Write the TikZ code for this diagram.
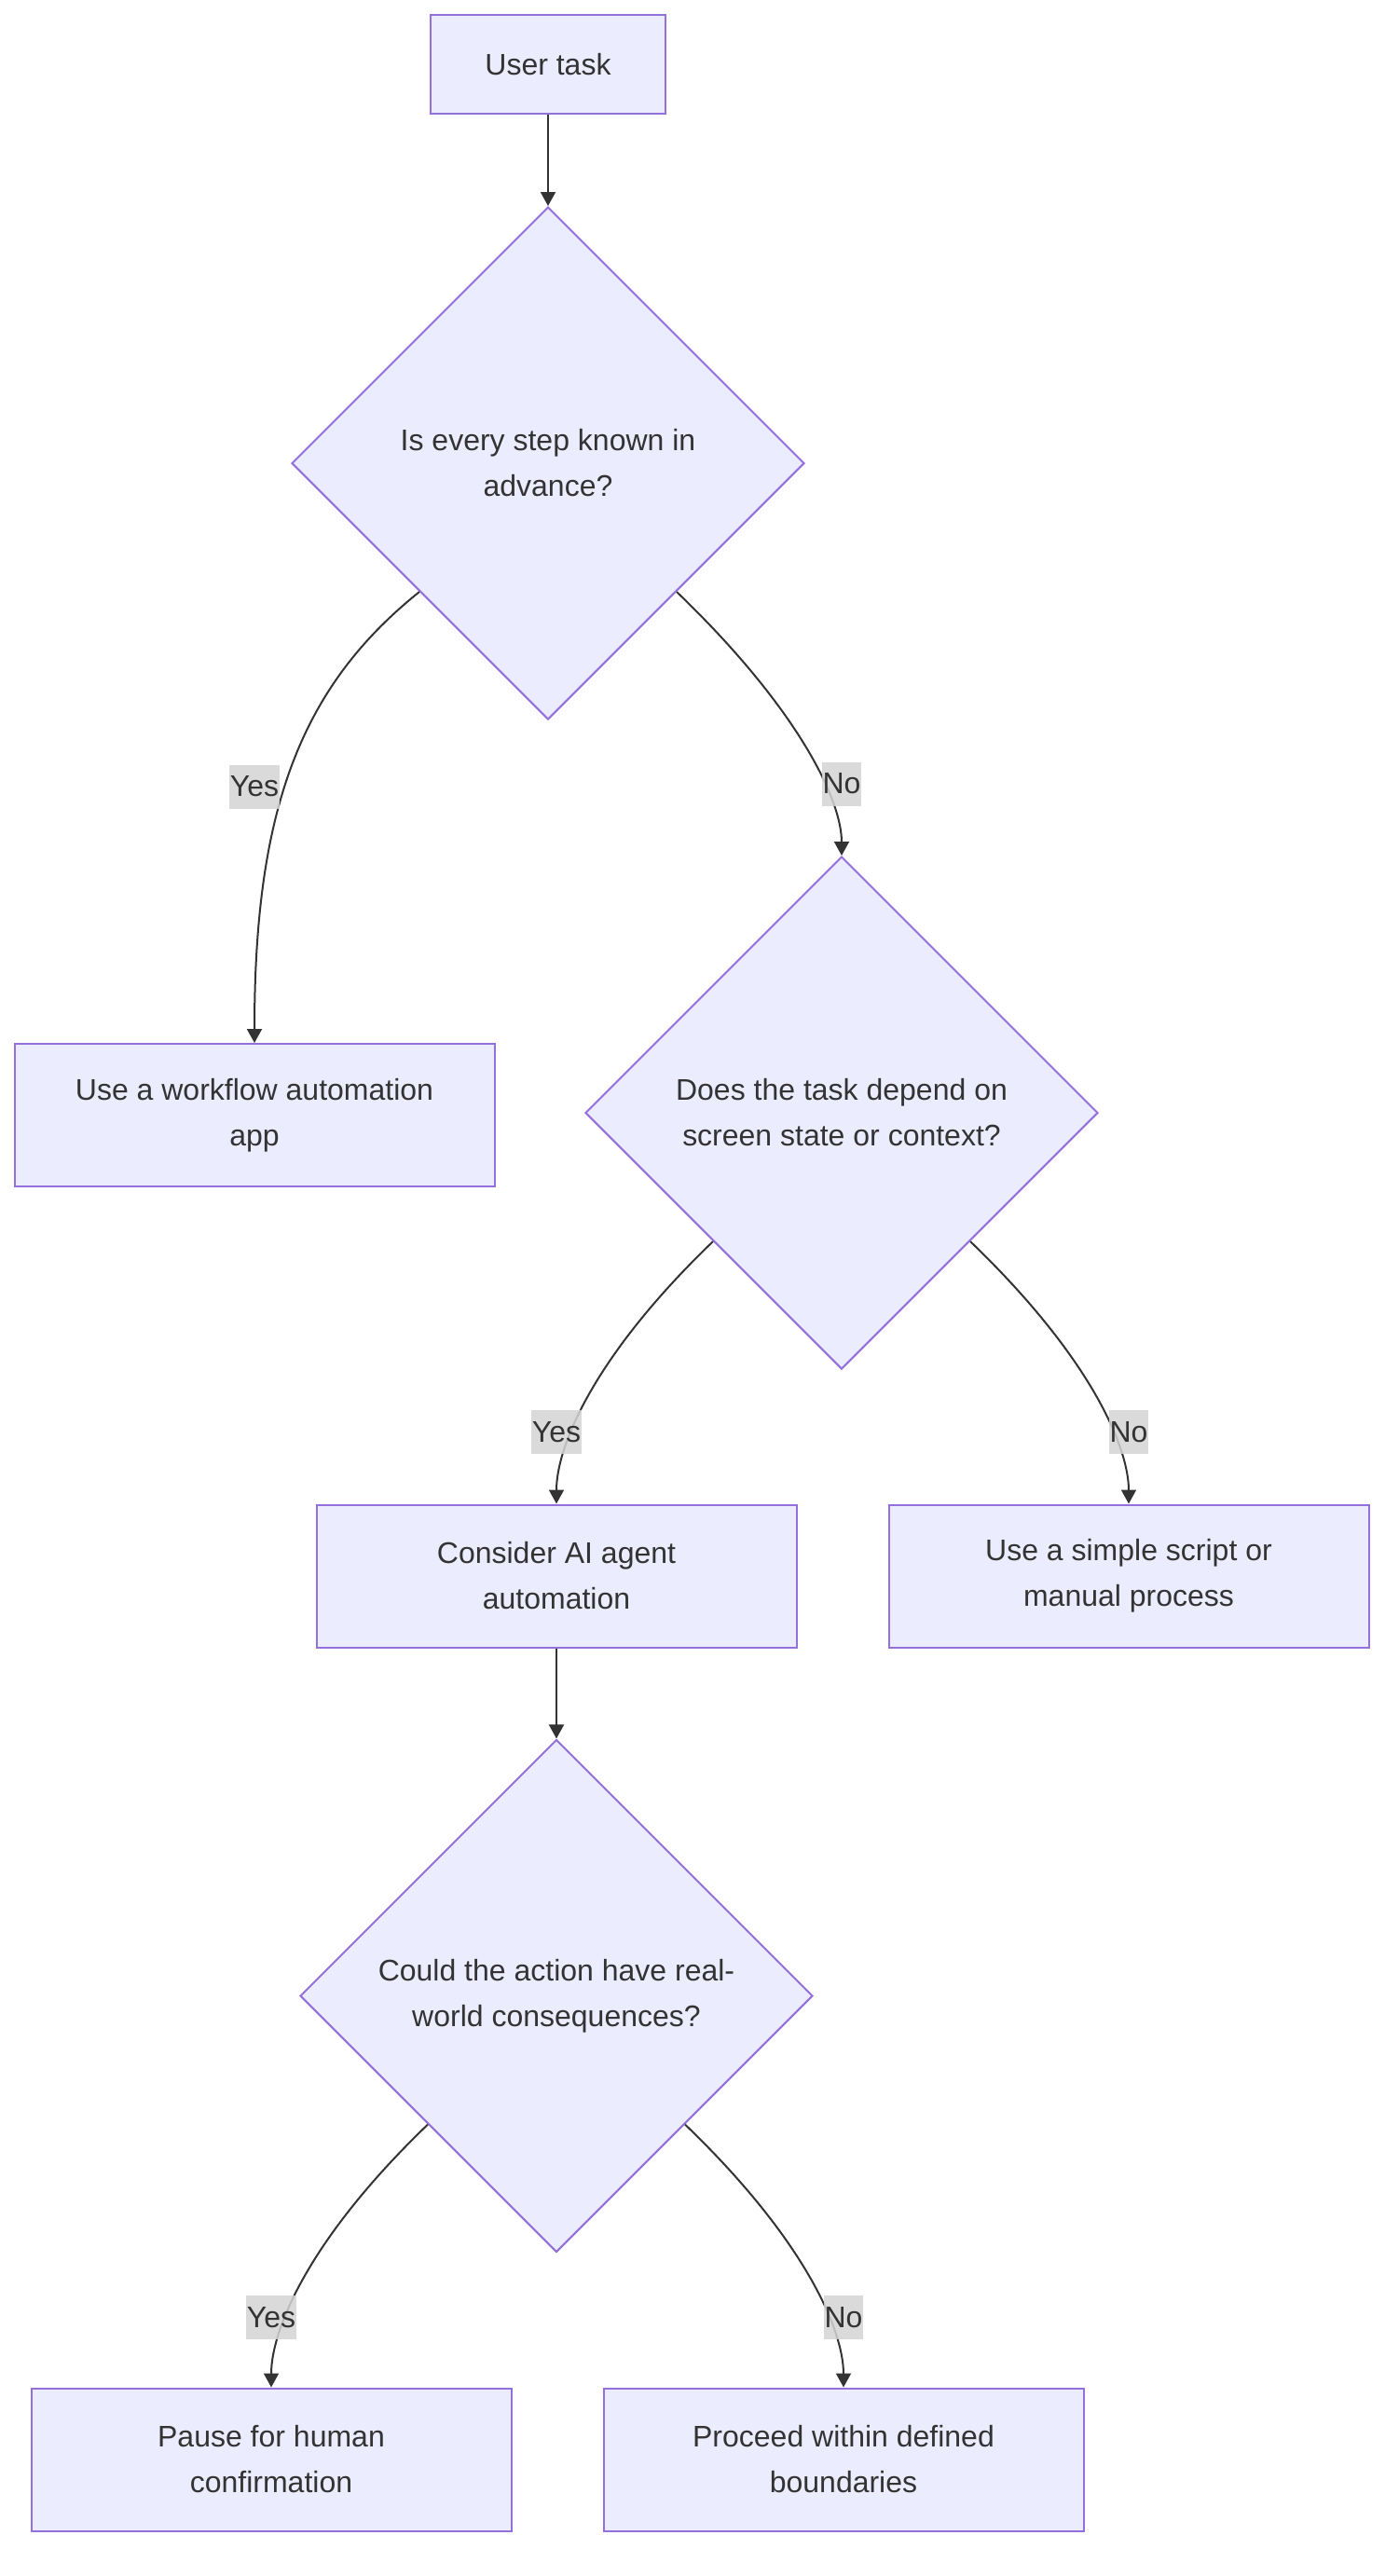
\documentclass[tikz,border=0pt]{standalone}
\usepackage{fontspec}
\setmainfont{Liberation Sans}
\usetikzlibrary{arrows.meta,positioning,shapes.geometric}
\definecolor{nodefill}{HTML}{ECECFF}
\definecolor{nodeline}{HTML}{9370DB}
\definecolor{ink}{HTML}{333333}
\definecolor{lblfill}{HTML}{D4D4D4}

\begin{document}
\begin{tikzpicture}[
  font=\fontsize{16pt}{24.5pt}\selectfont,
  text=ink,
  node distance=0pt,
  box/.style={draw=nodeline,fill=nodefill,line width=1pt,minimum width=257.5pt,
              minimum height=76.5pt,align=center,inner sep=0pt},
  dec/.style={diamond,aspect=1,draw=nodeline,fill=nodefill,line width=1pt,
              minimum width=275pt,minimum height=275pt,inner sep=0pt},
  ar/.style={-{Triangle[length=7.5pt,width=8pt]},draw=ink,line width=1pt},
  lbl/.style={fill=lblfill,fill opacity=0.85,text opacity=1,inner xsep=0.5pt,
              inner ysep=0pt,minimum height=23.5pt}
]
\useasboundingbox (0,0) rectangle (750pt,-1382pt);

\node[box,minimum width=126pt,minimum height=53pt] (task) at (294pt,-34.5pt) {User task};
\node[dec,below=49pt of task,
  label={[align=center]center:{Is every step known in\\advance?}}] (d1) {};
\node[box,below=173pt of d1,xshift=-157.5pt] (wf) {Use a workflow automation\\app};
\node[dec,below=72.5pt of d1,xshift=157.5pt,
  label={[align=center]center:{Does the task depend on\\screen state or context?}}] (d2) {};
\node[box,below=71.75pt of d2,xshift=-153pt] (ai) {Consider AI agent\\automation};
\node[box,right=48.5pt of ai] (script) {Use a simple script or\\manual process};
\node[dec,below=48.5pt of ai,
  label={[align=center]center:{Could the action have real-\\world consequences?}}] (d3) {};
\node[box,below=72pt of d3,xshift=-153pt] (pause) {Pause for human\\confirmation};
\node[box,right=48.5pt of pause] (proceed) {Proceed within defined\\boundaries};

\draw[ar] (task) -- (d1);
\draw[ar] (d1.225) .. controls +(-65pt,-52pt) and +(0,123pt) .. (wf.north);
\draw[ar] (d1.-45) .. controls +(65pt,-62.5pt) and +(0,30pt) .. (d2.north);
\draw[ar] (d2.225) .. controls +(-65pt,-62.5pt) and +(0,30pt) .. (ai.north);
\draw[ar] (d2.-45) .. controls +(65pt,-62.5pt) and +(0,30pt) .. (script.north);
\draw[ar] (ai) -- (d3);
\draw[ar] (d3.225) .. controls +(-65pt,-62.5pt) and +(0,30pt) .. (pause.north);
\draw[ar] (d3.-45) .. controls +(65pt,-62.5pt) and +(0,30pt) .. (proceed.north);

\node[lbl,above=125.5pt of wf] (yes1) {Yes};
\node[lbl,above=26.5pt of d2] (no1) {No};
\node[lbl,above=26.5pt of ai] (yes2) {Yes};
\node[lbl,above=26.5pt of script] (no2) {No};
\node[lbl,above=25.5pt of pause] (yes3) {Yes};
\node[lbl,above=25.5pt of proceed] (no3) {No};
\end{tikzpicture}
\end{document}
